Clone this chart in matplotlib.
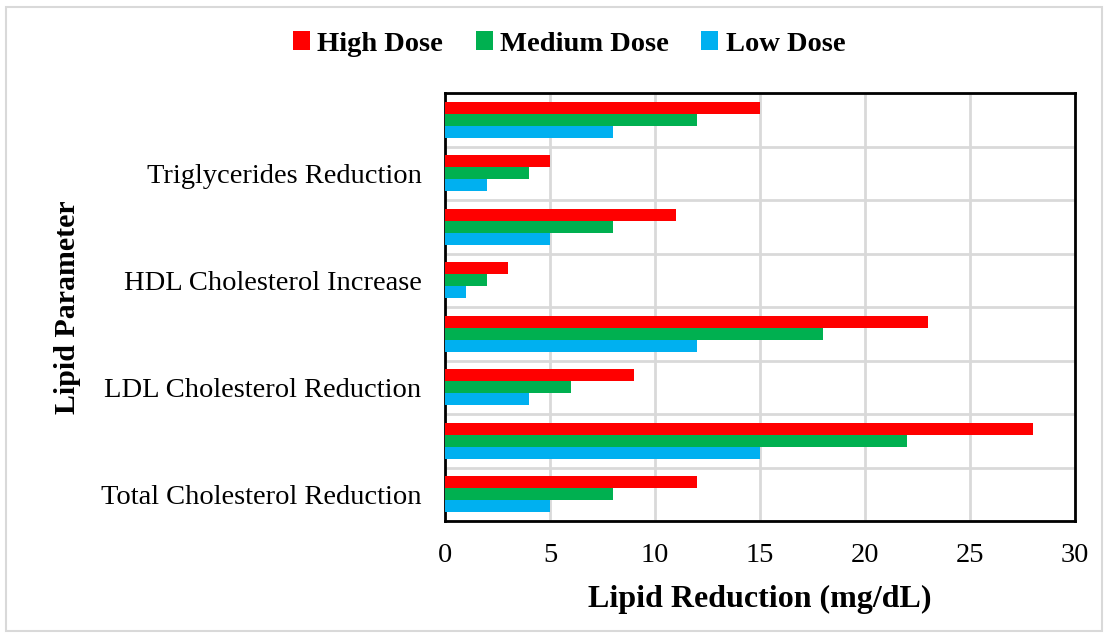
import numpy as np
import matplotlib.pyplot as plt
from matplotlib.patches import Rectangle

plt.rcParams['font.family'] = ['Liberation Serif', 'DejaVu Serif']

# rows from bottom to top; every second row has no label
row_labels = ["Total Cholesterol Reduction", "", "LDL Cholesterol Reduction", "",
              "HDL Cholesterol Increase", "", "Triglycerides Reduction", ""]
high_dose = [12, 28, 9, 23, 3, 11, 5, 15]
medium_dose = [8, 22, 6, 18, 2, 8, 4, 12]
low_dose = [5, 15, 4, 12, 1, 5, 2, 8]

series_names = ["High Dose", "Medium Dose", "Low Dose"]
colors = ["#ff0000", "#00b050", "#00b0f0"]

fig = plt.figure(figsize=(11.08, 6.34), dpi=100)
ax = fig.add_axes([445 / 1108, 1 - 521 / 634, 630 / 1108, 428 / 634])

y = np.arange(len(row_labels))
h = 0.225
for vals, off, c, name in zip([high_dose, medium_dose, low_dose], [h, 0, -h], colors, series_names):
    ax.barh(y + off, vals, height=h, color=c, label=name, zorder=3)

ax.set_xlim(0, 30)
ax.set_ylim(-0.5, len(row_labels) - 0.5)
ax.set_xticks(np.arange(0, 31, 5))
ax.set_yticks(y)
ax.set_yticklabels(row_labels)
ax.set_yticks(np.arange(-0.5, len(row_labels), 1), minor=True)
ax.tick_params(axis='both', which='both', length=0, labelsize=20.5)
ax.tick_params(axis='x', pad=16)
ax.tick_params(axis='y', pad=17)
ax.grid(axis='x', which='major', color='#d9d9d9', lw=2, zorder=0)
ax.grid(axis='y', which='minor', color='#d9d9d9', lw=2, zorder=0)
for s in ax.spines.values():
    s.set_linewidth(2)
    s.set_color('black')

ax.set_xlabel("Lipid Reduction (mg/dL)", fontsize=23, fontweight='bold', labelpad=12)
ax.set_ylabel("Lipid Parameter", fontsize=21.5, fontweight='bold', labelpad=14)

fig.legend(loc='center', bbox_to_anchor=(569 / 1108, 1 - 44 / 634), ncol=3, frameon=False,
           prop={'size': 20.5, 'weight': 'bold'}, handlelength=0.6, handleheight=0.6,
           handletextpad=0.25, columnspacing=1.15)

fig.add_artist(Rectangle((0.005, 0.005), 0.99, 0.984, transform=fig.transFigure,
                         fill=False, edgecolor='#d9d9d9', lw=1.5))

fig.savefig("out.png", dpi=100)
